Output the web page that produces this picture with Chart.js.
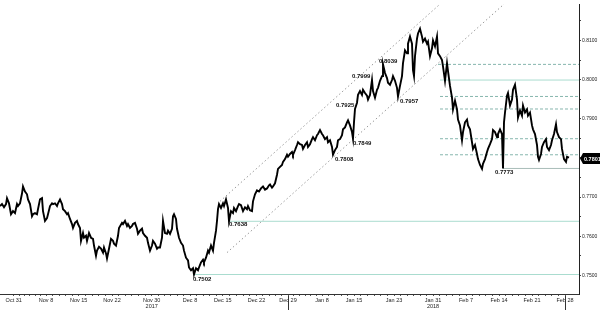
<!DOCTYPE html>
<html>
<head>
<meta charset="utf-8">
<script src="https://cdn.jsdelivr.net/npm/chart.js@4"></script>
<style>
  html, body { margin: 0; padding: 0; background: #fff; }
</style>
</head>
<body>
<canvas id="chart" width="600" height="310"></canvas>
<script>
// intraday series, x = bar number
const bars = [
  0,2,4,6,7,9,11,13,15,17,18,20,22,23,25,27,28,30,32,33,
  35,37,38,40,42,43,45,47,48,50,52,53,55,57,58,60,62,63,65,67,
  68,70,72,73,75,77,78,80,81,83,84,86,87,89,91,93,94,96,97,99,
  101,103,104,106,107,109,111,113,114,116,118,119,122,123,125,127,128,130,132,133,
  135,137,138,140,142,143,145,147,148,150,152,153,155,157,158,160,162,163,165,167,
  168,170,172,173,174,176,177,179,181,183,184,186,188,189,191,193,194,196,198,199,
  201,203,204,206,208,209,211,213,214,216,217,218,219,221,223,224,226,228,229,231,
  233,234,236,238,239,241,243,245,247,248,250,252,253,255,257,259,261,263,265,267,
  269,270,272,273,275,277,278,280,282,283,285,287,288,290,292,293,295,297,298,300,
  302,303,305,307,308,310,312,313,315,317,318,320,322,323,325,327,328,330,332,333,
  335,337,338,340,342,343,345,347,348,350,352,353,354,355,357,358,360,362,363,365,
  367,368,370,372,373,375,377,378,380,382,383,385,387,388,390,392,393,395,397,398,
  400,402,403,405,407,408,410,412,413,414,415,417,418,420,422,423,425,427,428,430,
  432,433,435,437,438,440,442,443,445,447,448,450,452,453,455,457,458,460,462,463,
  465,467,468,470,472,473,475,477,478,480,482,483,485,487,488,490,492,493,495,497,
  498,500,502,503,504,505,507,508,510,512,513,515,517,518,520,522,523,525,527,528,
  530,532,533,535,537,538,539,541,542,544,546,547,549,551,552,554,556,557,559,561,
  562,564,566,567,569
];
const prices = [
  .7677,.7682,.7674,.7682,.7697,.7684,.7656,.7664,.7659,.7682,.7677,.7684,.7709,.7727,.7714,.7707,.7694,.7682,.7651,.7656,
  .7659,.7656,.7669,.7694,.7697,.7664,.7639,.7646,.7656,.7677,.7684,.7682,.7684,.7677,.7684,.7694,.7682,.7669,.7664,.7656,
  .7659,.7644,.7631,.7621,.7634,.7639,.7631,.7621,.7588,.7608,.7596,.7601,.7588,.7608,.7596,.7593,.7576,.7550,.7563,.7573,
  .7568,.7558,.7571,.7556,.7543,.7568,.7593,.7588,.7581,.7576,.7601,.7621,.7634,.7631,.7639,.7626,.7631,.7621,.7626,.7631,
  .7634,.7619,.7606,.7614,.7619,.7608,.7601,.7596,.7583,.7563,.7576,.7588,.7581,.7568,.7571,.7571,.7596,.7639,.7608,.7606,
  .7614,.7606,.7619,.7651,.7656,.7644,.7619,.7596,.7583,.7576,.7563,.7545,.7538,.7520,.7513,.7518,.7502,.7518,.7513,.7520,
  .7533,.7540,.7533,.7545,.7563,.7558,.7576,.7563,.7583,.7614,.7639,.7669,.7682,.7672,.7684,.7677,.7694,.7672,.7638,.7664,
  .7659,.7672,.7664,.7677,.7682,.7679,.7664,.7674,.7669,.7677,.7666,.7664,.7689,.7707,.7717,.7714,.7722,.7727,.7719,.7722,
  .7730,.7732,.7724,.7727,.7735,.7757,.7772,.7777,.7782,.7790,.7797,.7808,.7803,.7810,.7815,.7808,.7820,.7833,.7840,.7835,
  .7833,.7823,.7833,.7840,.7828,.7835,.7848,.7853,.7845,.7858,.7861,.7871,.7861,.7858,.7848,.7853,.7840,.7845,.7828,.7808,
  .7820,.7828,.7845,.7848,.7858,.7873,.7878,.7891,.7896,.7883,.7866,.7849,.7891,.7925,.7941,.7961,.7971,.7961,.7974,.7966,
  .7959,.7949,.7961,.7999,.7971,.7954,.7974,.7979,.7997,.8009,.8039,.8017,.8004,.7992,.7987,.7999,.8009,.7997,.7979,.7957,
  .7984,.8009,.8042,.8075,.8067,.8092,.8110,.8092,.8024,.8009,.8060,.8105,.8118,.8130,.8110,.8097,.8105,.8092,.8097,.8060,
  .8080,.8100,.8085,.8110,.8067,.8060,.8050,.8034,.7997,.8042,.8022,.7984,.7954,.7924,.7946,.7924,.7898,.7883,.7845,.7866,
  .7891,.7898,.7883,.7873,.7840,.7823,.7833,.7810,.7797,.7782,.7772,.7785,.7797,.7815,.7823,.7835,.7848,.7871,.7866,.7853,
  .7861,.7873,.7861,.7773,.7891,.7916,.7959,.7966,.7934,.7949,.7974,.7987,.7949,.7903,.7921,.7908,.7934,.7916,.7924,.7908,
  .7916,.7883,.7873,.7861,.7833,.7803,.7795,.7810,.7828,.7840,.7848,.7828,.7820,.7833,.7845,.7861,.7886,.7866,.7853,.7848,
  .7823,.7797,.7790,.7803,.7801
];

// date ticks (bar number of each label) and trading days between them
const tickBars = [13.7, 46, 78.7, 112, 151.7, 190, 222.8, 256.5, 288, 322, 354, 394, 433, 466, 499, 532, 565];
const tickLabels = ['Oct 31','Nov 8','Nov 15','Nov 22','Nov 30','Dec 8','Dec 15','Dec 22','Dec 29',
                    'Jan 8','Jan 15','Jan 23','Jan 31','Feb 7','Feb 14','Feb 21','Feb 28'];
const yearLabels = ['','','','','2017','','','','','','','','2018','','','',''];
const daysBetween = [6,5,5,6,6,5,5,5,6,5,6,6,5,5,5,5];

// support / resistance levels and the bar each one starts at
const levelValues = [0.7502, 0.7638, 0.7773, 0.7808, 0.7849, 0.7925, 0.7957, 0.7999, 0.8039];
const levelStart  = [194, 229, 503, 440, 440, 440, 440, 440, 438];
const levelSolid  = [true, true, true, false, false, false, false, true, false];

// trend channel (two parallel lines)
const channelUpper = [{ x: 220, y: 0.7689 }, { x: 440, y: 0.8193 }];
const channelLower = [{ x: 227, y: 0.7558 }, { x: 504, y: 0.8193 }];

const X_MIN = 0, X_MAX = 579;
const Y_MIN = 0.74522, Y_MAX = 0.81933;

const FONT = '"Liberation Sans", Arial, sans-serif';

// where the level captions sit (bar of left edge, pixel nudge off the line)
const captionSpots = [
  { bar: 193, dy: 5 }, { bar: 229, dy: 3.5 }, { bar: 495, dy: 3.5 }, { bar: 335, dy: 4.5 },
  { bar: 353, dy: 5 }, { bar: 336, dy: -3.5 }, { bar: 400, dy: 4.5 }, { bar: 352, dy: -4 }, { bar: 379, dy: -3.5 }
];

const xTicks = [];
tickBars.forEach((b, i) => {
  xTicks.push(b);
  if (i < daysBetween.length) {
    const step = (tickBars[i + 1] - b) / daysBetween[i];
    for (let k = 1; k < daysBetween[i]; k++) xTicks.push(b + k * step);
  }
});

const yTicks = [];
for (let v = 750; v <= 815; v += 5) yTicks.push(v / 1000);

const datasets = [{
  data: bars.map((b, i) => ({ x: b, y: prices[i] })),
  borderColor: '#000',
  borderWidth: 1.9,
  pointRadius: 0,
  tension: 0
}];

levelValues.forEach((v, i) => {
  datasets.push({
    data: [{ x: levelStart[i], y: v }, { x: X_MAX, y: v }],
    borderColor: levelSolid[i] ? (i === 2 ? '#a9bdb8' : '#aadccf') : '#86b6ad',
    borderWidth: 1,
    borderDash: levelSolid[i] ? [] : [3, 2],
    pointRadius: 0
  });
});

[channelUpper, channelLower].forEach(pts => {
  datasets.push({
    data: pts,
    borderColor: '#9a9a9a',
    borderWidth: 1,
    borderDash: [1.5, 2.5],
    pointRadius: 0
  });
});

const extras = {
  id: 'extras',
  afterDatasetsDraw(chart) {
    const ctx = chart.ctx;
    const xs = chart.scales.x, ys = chart.scales.y;
    ctx.save();
    ctx.font = 'bold 6px ' + FONT;
    ctx.fillStyle = '#111';
    ctx.textBaseline = 'middle';
    ctx.textAlign = 'left';
    levelValues.forEach((v, i) => {
      const s = captionSpots[i];
      ctx.fillText(v.toFixed(4), xs.getPixelForValue(s.bar), ys.getPixelForValue(v) + s.dy);
    });
    ctx.restore();
  },
  afterDraw(chart) {
    const ctx = chart.ctx;
    const xs = chart.scales.x, ys = chart.scales.y;
    const area = chart.chartArea;
    ctx.save();
    // last price tag
    const last = prices[prices.length - 1];
    const py = Math.round(ys.getPixelForValue(last)) + 0.5;
    const left = area.right + 1;
    ctx.fillStyle = '#000';
    ctx.beginPath();
    ctx.moveTo(left, py);
    ctx.lineTo(left + 3, py - 5.5);
    ctx.lineTo(600, py - 5.5);
    ctx.lineTo(600, py + 5.5);
    ctx.lineTo(left + 3, py + 5.5);
    ctx.closePath();
    ctx.fill();
    ctx.fillStyle = '#fff';
    ctx.font = 'bold 5.5px ' + FONT;
    ctx.textBaseline = 'middle';
    ctx.fillText(last.toFixed(4), left + 4, py + 0.5);
    // year separators under the date axis
    ctx.strokeStyle = '#333';
    ctx.lineWidth = 1;
    [288, 565].forEach(b => {
      const px = Math.round(xs.getPixelForValue(b)) + 0.5;
      ctx.beginPath();
      ctx.moveTo(px, area.bottom + 2);
      ctx.lineTo(px, 310);
      ctx.stroke();
    });
    ctx.restore();
  }
};

new Chart(document.getElementById('chart'), {
  type: 'line',
  data: { datasets },
  options: {
    responsive: false,
    animation: false,
    events: [],
    layout: { padding: 0 },
    plugins: { legend: { display: false }, tooltip: { enabled: false } },
    scales: {
      x: {
        type: 'linear',
        position: 'bottom',
        min: X_MIN,
        max: X_MAX,
        afterBuildTicks: s => { s.ticks = xTicks.map(v => ({ value: v })); },
        afterFit: s => { s.height = 16; },
        grid: { drawOnChartArea: false, tickLength: 2, color: '#555' },
        border: { color: '#333' },
        ticks: {
          autoSkip: false,
          maxRotation: 0,
          padding: 1,
          color: '#222',
          font: { family: FONT, size: 5.5 },
          callback: v => {
            const i = tickBars.indexOf(v);
            if (i < 0) return '';
            return yearLabels[i] ? [tickLabels[i], yearLabels[i]] : tickLabels[i];
          }
        }
      },
      y: {
        type: 'linear',
        position: 'right',
        min: Y_MIN,
        max: Y_MAX,
        afterBuildTicks: s => { s.ticks = yTicks.map(v => ({ value: v })); },
        afterFit: s => { s.width = 21; },
        grid: { drawOnChartArea: false, tickLength: 2, color: '#444' },
        border: { color: '#222' },
        ticks: {
          padding: 1,
          color: '#222',
          font: { family: FONT, size: 5 },
          callback: v => (Math.round(v * 200) % 2 === 0 ? v.toFixed(4) : '')
        }
      }
    }
  },
  plugins: [extras]
});
</script>
</body>
</html>
